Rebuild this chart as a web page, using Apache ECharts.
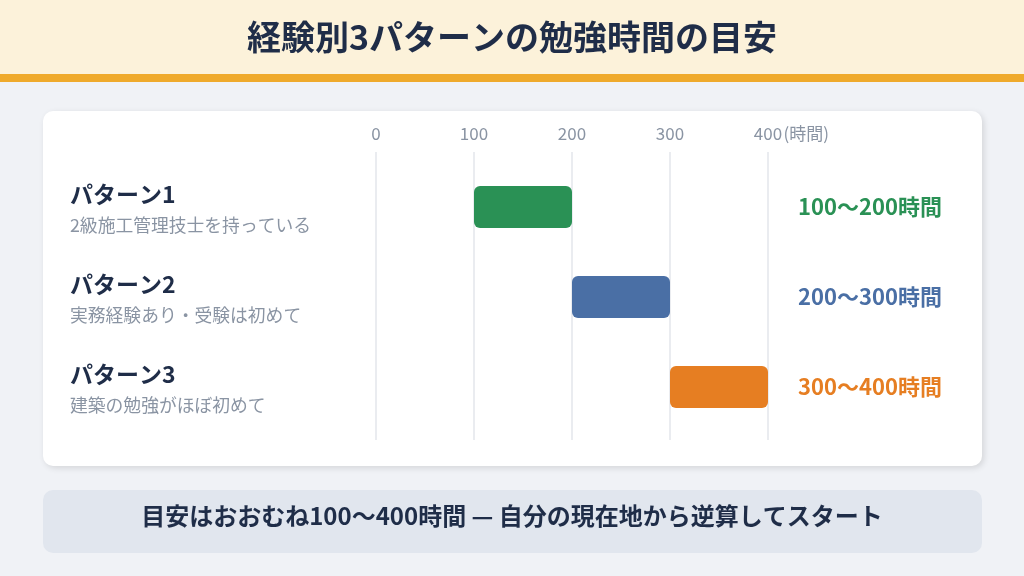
<!DOCTYPE html>
<html><head><meta charset="utf-8">
<script src="https://cdn.jsdelivr.net/npm/echarts@6/dist/echarts.min.js"></script>
<style>html,body{margin:0;padding:0;background:#F0F2F6}#c{width:1024px;height:576px}</style>
</head><body><div id="c"></div>
<script>
const patterns = ['パターン1', 'パターン2', 'パターン3'];
const descriptions = ['2級施工管理技士を持っている', '実務経験あり・受験は初めて', '建築の勉強がほぼ初めて'];
const startHours = [100, 200, 300];
const endHours = [200, 300, 400];
const axisTicks = [0, 100, 200, 300, 400];
const unitLabel = '(時間)';
const titleText = '経験別3パターンの勉強時間の目安';
const noteText = '目安はおおむね100〜400時間 — 自分の現在地から逆算してスタート';

const barColors = ['#2A9155', '#4A6FA5', '#E67E22'];
const FONT = '"Noto Sans CJK JP", "Noto Sans", sans-serif';
const dark = '#1F2D48';

const chart = echarts.init(document.getElementById('c'));
const rangeRich = {};
barColors.forEach((c, i) => { rangeRich['c' + i] = { color: c, fontSize: 22, fontWeight: 'bold', fontFamily: FONT }; });

chart.setOption({
  backgroundColor: '#F0F2F6',
  animation: false,
  graphic: [
    { type: 'rect', shape: { x: 0, y: 0, width: 1024, height: 75 }, style: { fill: '#FCF2DA' }, z: 0 },
    { type: 'rect', shape: { x: 0, y: 74, width: 1024, height: 8 }, style: { fill: '#EFAA2C' }, z: 0 },
    { type: 'rect', shape: { x: 43, y: 111, width: 939, height: 355, r: 10 },
      style: { fill: '#FFFFFF', shadowBlur: 6, shadowOffsetX: 2, shadowOffsetY: 2, shadowColor: 'rgba(0,0,0,0.12)' }, z: 0 },
    { type: 'rect', shape: { x: 43, y: 490, width: 939, height: 63, r: 10 }, style: { fill: '#E1E6EE' }, z: 0 }
  ],
  title: [
    { text: titleText, left: 'center', top: 15, textStyle: { fontFamily: FONT, fontSize: 34, fontWeight: 'bold', color: dark } },
    { text: noteText, left: 'center', top: 499, textStyle: { fontFamily: FONT, fontSize: 24, fontWeight: 'bold', color: dark } }
  ],
  grid: [
    { left: 376, right: 256, top: 162, height: 270 },
    { left: 376, right: 256, top: 152, height: 288 }
  ],
  xAxis: [
    { gridIndex: 0, type: 'value', position: 'top', min: axisTicks[0], max: axisTicks[axisTicks.length - 1], interval: 100,
      axisLine: { show: false }, axisTick: { show: false }, splitLine: { show: false },
      axisLabel: { margin: 20, color: '#8A94A3', fontSize: 17, fontFamily: FONT,
        formatter: v => v === axisTicks[axisTicks.length - 1] ? '{p|}' + v + '{u|' + unitLabel + '}' : String(v),
        rich: { p: { width: 48 }, u: { color: '#8A94A3', fontSize: 17, fontFamily: FONT, width: 48 } } } },
    { gridIndex: 1, type: 'value', min: axisTicks[0], max: axisTicks[axisTicks.length - 1], interval: 100,
      axisLine: { show: false }, axisTick: { show: false }, axisLabel: { show: false },
      splitLine: { show: true, lineStyle: { color: '#E3E6EB', width: 1.5 } } }
  ],
  yAxis: [
    { gridIndex: 0, type: 'category', inverse: true, data: patterns, position: 'left',
      axisLine: { show: false }, axisTick: { show: false },
      axisLabel: { align: 'left', margin: 306,
        formatter: (v, i) => '{t|' + v + '}\n{d|' + descriptions[i] + '}',
        rich: {
          t: { fontSize: 23, fontWeight: 'bold', color: dark, fontFamily: FONT, lineHeight: 36 },
          d: { fontSize: 17.8, color: '#8A94A3', fontFamily: FONT, lineHeight: 26 }
        } } },
    { gridIndex: 0, type: 'category', inverse: true, data: patterns, position: 'right',
      axisLine: { show: false }, axisTick: { show: false },
      axisLabel: { margin: 30, align: 'left',
        formatter: (v, i) => '{c' + i + '|' + startHours[i] + '〜' + endHours[i] + '時間}',
        rich: rangeRich } },
    { gridIndex: 1, type: 'value', show: false }
  ],
  series: [
    { type: 'bar', xAxisIndex: 0, yAxisIndex: 0, stack: 'r', barWidth: 42, silent: true,
      itemStyle: { color: 'transparent' }, data: startHours },
    { type: 'bar', xAxisIndex: 0, yAxisIndex: 0, stack: 'r', barWidth: 42,
      data: endHours.map((e, i) => ({ value: e - startHours[i], itemStyle: { color: barColors[i], borderRadius: 6 } })) }
  ]
});
</script></body></html>
